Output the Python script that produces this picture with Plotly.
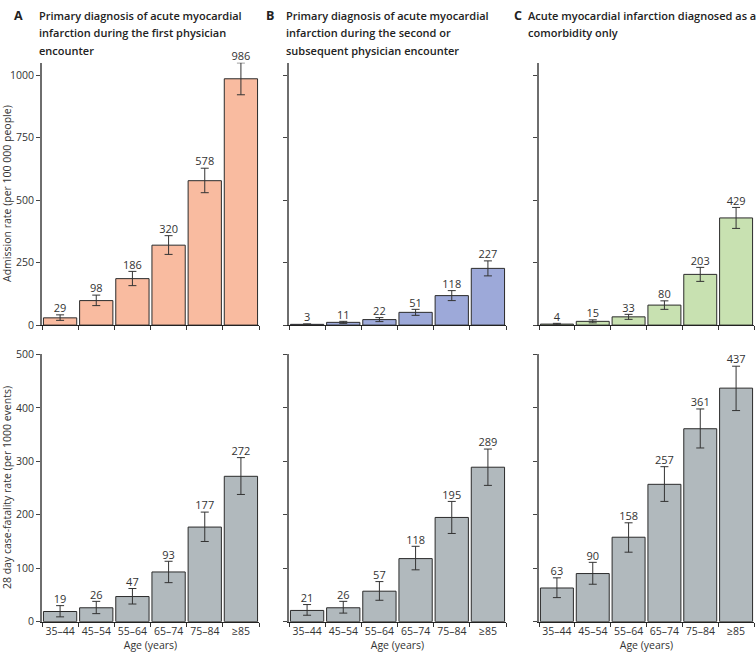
import plotly.graph_objects as go

ages = ["35–44", "45–54", "55–64", "65–74", "75–84", "≥85"]

# Admission rate (per 100 000 people)
adm_A = [29, 98, 186, 320, 578, 986]
adm_A_lo = [19, 78, 158, 283, 530, 922]
adm_A_hi = [41, 120, 215, 358, 628, 1050]
adm_B = [3, 11, 22, 51, 118, 227]
adm_B_lo = [1, 7, 14, 39, 98, 197]
adm_B_hi = [5, 15, 30, 63, 138, 257]
adm_C = [4, 15, 33, 80, 203, 429]
adm_C_lo = [1, 9, 23, 63, 175, 387]
adm_C_hi = [7, 21, 43, 97, 231, 471]

# 28 day case-fatality rate (per 1000 events)
cf_A = [19, 26, 47, 93, 177, 272]
cf_A_lo = [9, 15, 33, 73, 150, 238]
cf_A_hi = [30, 38, 62, 113, 205, 307]
cf_B = [21, 26, 57, 118, 195, 289]
cf_B_lo = [12, 16, 40, 97, 165, 255]
cf_B_hi = [32, 38, 75, 141, 225, 323]
cf_C = [63, 90, 158, 257, 361, 437]
cf_C_lo = [45, 70, 130, 225, 325, 395]
cf_C_hi = [82, 111, 185, 290, 398, 478]

colors = {"A": "#F9BBA0", "B": "#9DA9D9", "C": "#C8E1B1"}
gray = "#B1B9BD"

titles = {
    "A": ["Primary diagnosis of acute myocardial",
          "infarction during the first physician",
          "encounter"],
    "B": ["Primary diagnosis of acute myocardial",
          "infarction during the second or",
          "subsequent physician encounter"],
    "C": ["Acute myocardial infarction diagnosed as a",
          "comorbidity only"],
}

W, H = 756, 659
xdom = {"A": (42, 259), "B": (289, 506), "C": (539, 754)}
top_y = (325, 57)
bot_y = (628, 355)

def px2py(y):
    return (H - y) / H

FONT = "Open Sans"
fig = go.Figure()

panels = [
    ("A", adm_A, adm_A_lo, adm_A_hi, cf_A, cf_A_lo, cf_A_hi),
    ("B", adm_B, adm_B_lo, adm_B_hi, cf_B, cf_B_lo, cf_B_hi),
    ("C", adm_C, adm_C_lo, adm_C_hi, cf_C, cf_C_lo, cf_C_hi),
]

layout = {}
for i, (p, a, alo, ahi, c, clo, chi) in enumerate(panels):
    for row, (vals, lo, hi, col) in enumerate([(a, alo, ahi, colors[p]), (c, clo, chi, gray)]):
        idx = i + 1 + 3 * row
        xa = "x" if idx == 1 else f"x{idx}"
        ya = "y" if idx == 1 else f"y{idx}"
        fig.add_trace(go.Bar(
            x=ages, y=vals, xaxis=xa, yaxis=ya,
            marker=dict(color=col, line=dict(color="#2b2b2b", width=1)),
            error_y=dict(type="data", symmetric=False,
                         array=[h - v for h, v in zip(hi, vals)],
                         arrayminus=[v - l for v, l in zip(vals, lo)],
                         color="#333333", thickness=1, width=4),
            showlegend=False, hoverinfo="skip",
        ))
        fig.add_trace(go.Scatter(
            x=ages, y=hi, xaxis=xa, yaxis=ya, mode="text",
            text=[str(v) for v in vals], textposition="top center",
            textfont=dict(family=FONT, size=11, color="#333333"),
            showlegend=False, hoverinfo="skip", cliponaxis=False,
        ))
        x0, x1 = xdom[p]
        ydp = top_y if row == 0 else bot_y
        xkey = "xaxis" if idx == 1 else f"xaxis{idx}"
        ykey = "yaxis" if idx == 1 else f"yaxis{idx}"
        layout[xkey] = dict(
            domain=[x0 / W, x1 / W], anchor=ya, type="category",
            tickson="boundaries", ticks="outside", ticklen=4, tickcolor="#333",
            showline=True, linecolor="#222", linewidth=1.2,
            showticklabels=(row == 1), showgrid=False, zeroline=False,
            tickangle=0,
            tickfont=dict(family=FONT, size=10.5, color="#333"),
            title=dict(text="Age (years)" if row == 1 else "",
                       font=dict(family=FONT, size=10.5, color="#333"), standoff=2),
        )
        if row == 0:
            yr = [0, 1050]; tv = [0, 250, 500, 750, 1000]
        else:
            yr = [0, 500]; tv = [0, 100, 200, 300, 400, 500]
        layout[ykey] = dict(
            domain=[px2py(ydp[0]), px2py(ydp[1])], anchor=xa, range=yr,
            tickvals=tv, ticks="outside", ticklen=4, tickcolor="#444",
            showline=True, linecolor="#6e6e6e", linewidth=1.6,
            showticklabels=(p == "A"), showgrid=False, zeroline=False,
            tickfont=dict(family=FONT, size=10.5, color="#333"),
        )

annotations = []
letter_x = {"A": 12, "B": 264, "C": 512}
text_x = {"A": 37, "B": 284, "C": 526}
line_y = [9, 26.5, 44]
for p in ["A", "B", "C"]:
    annotations.append(dict(
        x=letter_x[p] / W, y=px2py(line_y[0]), xref="paper", yref="paper",
        xanchor="left", yanchor="middle", showarrow=False,
        text=f"<b>{p}</b>", font=dict(family=FONT, size=12.5, color="#222"),
    ))
    for k, line in enumerate(titles[p]):
        annotations.append(dict(
            x=text_x[p] / W, y=px2py(line_y[k]), xref="paper", yref="paper",
            xanchor="left", yanchor="middle", showarrow=False, align="left",
            text=line, font=dict(family=FONT, size=11, color="#222", weight=600),
        ))
annotations.append(dict(
    x=7 / W, y=px2py((top_y[0] + top_y[1]) / 2), xref="paper", yref="paper",
    xanchor="center", yanchor="middle", showarrow=False, textangle=-90,
    text="Admission rate (per 100 000 people)",
    font=dict(family=FONT, size=10.5, color="#333"),
))
annotations.append(dict(
    x=7 / W, y=px2py((bot_y[0] + bot_y[1]) / 2), xref="paper", yref="paper",
    xanchor="center", yanchor="middle", showarrow=False, textangle=-90,
    text="28 day case-fatality rate (per 1000 events)",
    font=dict(family=FONT, size=10.5, color="#333"),
))

fig.update_layout(
    width=W, height=H, margin=dict(l=0, r=0, t=0, b=0),
    paper_bgcolor="white", plot_bgcolor="white",
    bargap=0.08, annotations=annotations,
    font=dict(family=FONT, color="#333"),
    **layout,
)

fig.write_html("out.html", config={"displayModeBar": False},
               post_script="document.body.style.margin='0';document.body.style.padding='0';")
